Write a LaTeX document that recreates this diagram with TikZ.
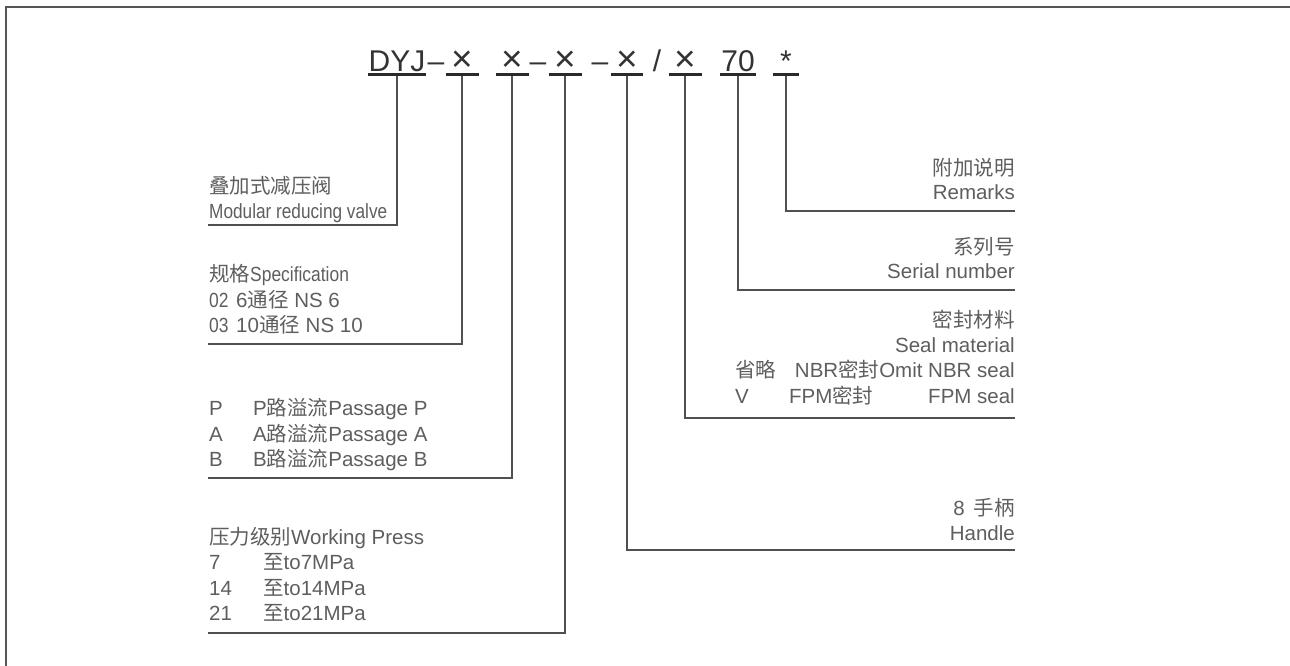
\documentclass[tikz,border=0pt]{standalone}
\usepackage{graphicx}
\usepackage{fontspec}
\setmainfont{Liberation Sans}
\newfontfamily\cjk{Noto Sans CJK SC}
\newcommand\zh[1]{{\cjk #1}}
\definecolor{txt}{HTML}{5E5E5E}
\definecolor{codec}{HTML}{333333}
\definecolor{ulc}{HTML}{2A2A2A}
\definecolor{connc}{HTML}{505050}
\definecolor{framec}{HTML}{555555}
\begin{document}
\begin{tikzpicture}[x=1pt,y=-1pt,
  code/.style={anchor=base, inner sep=0pt, font=\fontsize{30}{30}\selectfont, text=codec},
  mult/.style={code, font=\fontsize{37}{37}\selectfont},
  lab/.style={inner sep=0pt, font=\fontsize{20.5}{24}\selectfont, text=txt},
  lw/.style={lab, anchor=base west},
  le/.style={lab, anchor=base east},
  uline/.style={line width=3.3pt, draw=ulc},
  conn/.style={line width=1.2pt, draw=connc},
  frame/.style={line width=2pt, draw=framec}]
\useasboundingbox (0,0) rectangle (1290,665);
\draw[frame] (6,666) -- (6,7) -- (1291,7);

% code line
\node[code] (tDYJ) at (397,71) {DYJ};
\node[code] (d1) at (436,71) {–};
\node[mult] (tx1) at (462,71) {×};
\node[mult] (tx2) at (512,71) {×};
\node[code] (d2) at (538,71) {–};
\node[mult] (tx3) at (565,71) {×};
\node[code] (d3) at (600,71) {–};
\node[mult] (tx4) at (627,71) {×};
\node[code] (sl) at (657,71) {/};
\node[mult] (tx5) at (685,71) {×};
\node[code] (t70) at (738,71) {70};
\node[code] (tst) at (786,71) {*};

% underlines
\draw[uline] (368,74.5) -- (426,74.5);
\draw[uline] (446,74.5) -- (479,74.5);
\draw[uline] (496,74.5) -- (529,74.5);
\draw[uline] (549,74.5) -- (582,74.5);
\draw[uline] (611,74.5) -- (643,74.5);
\draw[uline] (669,74.5) -- (702,74.5);
\draw[uline] (720,74.5) -- (756,74.5);
\draw[uline] (773,74.5) -- (799,74.5);

% connector ends
\coordinate (e1) at (208,225);
\coordinate (e2) at (208,344);
\coordinate (e3) at (208,478);
\coordinate (e4) at (208,633);
\coordinate (e5) at (1015,550);
\coordinate (e6) at (1015,418);
\coordinate (e7) at (1015,290);
\coordinate (e8) at (1015,211);

\draw[conn] ([yshift=-5pt]tDYJ.south) |- (e1);
\draw[conn] ([yshift=-5pt]tx1.south) |- (e2);
\draw[conn] ([yshift=-5pt]tx2.south) |- (e3);
\draw[conn] ([yshift=-5pt]tx3.south) |- (e4);
\draw[conn] ([yshift=-5pt]tx4.south) |- (e5);
\draw[conn] ([yshift=-5pt]tx5.south) |- (e6);
\draw[conn] ([yshift=-5pt]t70.south) |- (e7);
\draw[conn] ([yshift=-5pt]tst.south) |- (e8);

% left labels
\node[lw] (a1) at (209,193) {\zh{叠加式减压阀}};
\node[lw] (a2) at (209,218) {\scalebox{0.84}[1]{Modular reducing valve}};

\node[lw] (b1) at (209,281) {\zh{规格}\scalebox{0.85}[1]{Specification}};
\node[lw] (b2a) at (209,307) {\scalebox{0.85}[1]{02}};
\node[lw] (b2b) at (236,307) {6\zh{通径} NS 6};
\node[lw] (b3a) at (209,332) {\scalebox{0.85}[1]{03}};
\node[lw] (b3b) at (236,332) {10\zh{通径} NS 10};

\node[lw] (c1a) at (209,415) {P};
\node[lw] (c1b) at (253,415) {P\zh{路溢流}Passage P};
\node[lw] (c2a) at (209,441) {A};
\node[lw] (c2b) at (253,441) {A\zh{路溢流}Passage A};
\node[lw] (c3a) at (209,466) {B};
\node[lw] (c3b) at (253,466) {B\zh{路溢流}Passage B};

\node[lw] (p0) at (209,544) {\zh{压力级别}Working Press};
\node[lw] (p1a) at (209,569) {7};
\node[lw] (p1b) at (263,569) {\zh{至}to7MPa};
\node[lw] (p2a) at (209,595) {14};
\node[lw] (p2b) at (263,595) {\zh{至}to14MPa};
\node[lw] (p3a) at (209,620) {21};
\node[lw] (p3b) at (263,620) {\zh{至}to21MPa};

% right labels
\node[le] (r1) at (1015,175) {\zh{附加说明}};
\node[le] (r2) at (1015,199) {Remarks};

\node[le] (s1) at (1015,254) {\zh{系列号}};
\node[le] (s2) at (1015,278) {Serial number};

\node[le] (m1) at (1015,327) {\zh{密封材料}};
\node[le] (m2) at (1015,352) {Seal material};
\node[lw] (m3a) at (735,377) {\zh{省略}};
\node[le] (m3b) at (1015,377) {NBR\zh{密封}Omit NBR seal};
\node[lw] (m4a) at (735,403) {V};
\node[lw] (m4b) at (789,403) {FPM\zh{密封}};
\node[le] (m4c) at (1015,403) {FPM seal};

\node[le] (h1) at (1015,515) {8\hspace{9pt}\zh{手柄}};
\node[le] (h2) at (1015,540) {Handle};
\end{tikzpicture}
\end{document}
